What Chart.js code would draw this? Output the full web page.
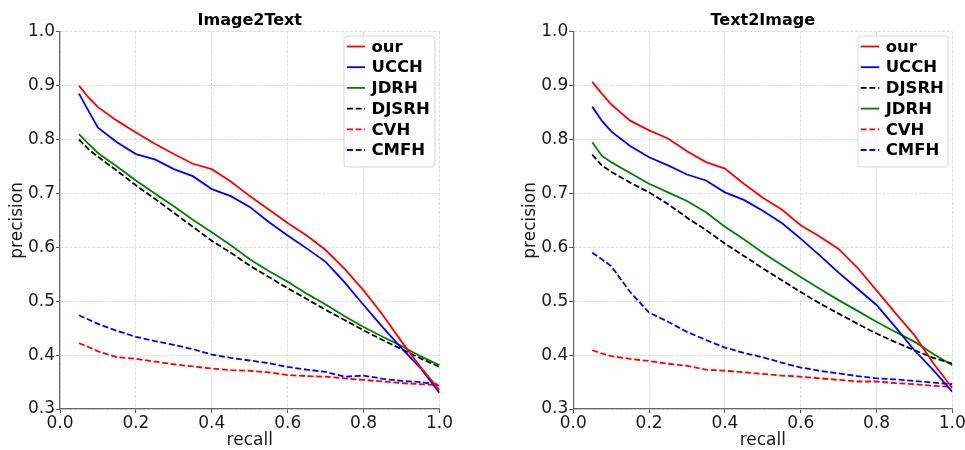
<!DOCTYPE html>
<html>
<head>
<meta charset="utf-8">
<script src="https://cdn.jsdelivr.net/npm/chart.js@4.4.1/dist/chart.umd.min.js"></script>
<style>
html, body { margin: 0; padding: 0; background: #fff; overflow: hidden; width: 965px; height: 450px; }
#i2t { position: absolute; left: 0; top: 0; }
#t2i { position: absolute; left: 485px; top: 0; }
</style>
</head>
<body>
<canvas id="i2t" width="482" height="450"></canvas>
<canvas id="t2i" width="500" height="450"></canvas>
<script>
// recall points shared by every curve
const recall = [0.05, 0.075, 0.1, 0.15, 0.2, 0.25, 0.3, 0.35, 0.4, 0.45, 0.5,
                0.55, 0.6, 0.65, 0.7, 0.75, 0.8, 0.85, 0.9, 0.95, 1.0];
const xTicks = [0, 0.2, 0.4, 0.6, 0.8, 1.0];
const yTicks = [0.3, 0.4, 0.5, 0.6, 0.7, 0.8, 0.9, 1.0];

// Image2Text precision
const i2tOur   = [0.900, 0.878, 0.860, 0.835, 0.813, 0.792, 0.773, 0.755, 0.745, 0.722, 0.695, 0.670, 0.645, 0.622, 0.595, 0.560, 0.520, 0.475, 0.425, 0.378, 0.335];
const i2tUCCH  = [0.885, 0.853, 0.822, 0.795, 0.773, 0.763, 0.745, 0.732, 0.708, 0.695, 0.675, 0.647, 0.622, 0.598, 0.573, 0.535, 0.493, 0.452, 0.413, 0.376, 0.330];
const i2tJDRH  = [0.810, 0.792, 0.775, 0.750, 0.724, 0.700, 0.676, 0.651, 0.628, 0.604, 0.578, 0.556, 0.536, 0.514, 0.494, 0.472, 0.452, 0.434, 0.417, 0.398, 0.381];
const i2tDJSRH = [0.800, 0.782, 0.768, 0.742, 0.715, 0.690, 0.664, 0.638, 0.612, 0.590, 0.566, 0.545, 0.524, 0.504, 0.484, 0.465, 0.446, 0.428, 0.411, 0.394, 0.378];
const i2tCVH   = [0.422, 0.415, 0.407, 0.396, 0.393, 0.388, 0.383, 0.379, 0.375, 0.372, 0.371, 0.368, 0.363, 0.361, 0.360, 0.357, 0.354, 0.351, 0.348, 0.346, 0.344];
const i2tCMFH  = [0.474, 0.466, 0.458, 0.445, 0.434, 0.426, 0.419, 0.411, 0.401, 0.395, 0.390, 0.385, 0.378, 0.373, 0.369, 0.360, 0.362, 0.356, 0.352, 0.350, 0.345];

// Text2Image precision
const t2iOur   = [0.907, 0.885, 0.865, 0.835, 0.817, 0.802, 0.778, 0.758, 0.746, 0.718, 0.692, 0.670, 0.641, 0.620, 0.597, 0.562, 0.520, 0.478, 0.437, 0.385, 0.339];
const t2iUCCH  = [0.861, 0.835, 0.815, 0.788, 0.767, 0.752, 0.735, 0.724, 0.702, 0.688, 0.668, 0.645, 0.616, 0.585, 0.553, 0.523, 0.493, 0.452, 0.409, 0.372, 0.332];
const t2iDJSRH = [0.772, 0.752, 0.740, 0.720, 0.702, 0.680, 0.655, 0.632, 0.607, 0.584, 0.561, 0.539, 0.517, 0.496, 0.477, 0.458, 0.440, 0.424, 0.409, 0.395, 0.384];
const t2iJDRH  = [0.795, 0.770, 0.758, 0.738, 0.718, 0.702, 0.686, 0.665, 0.638, 0.615, 0.590, 0.567, 0.545, 0.523, 0.502, 0.482, 0.462, 0.443, 0.425, 0.402, 0.381];
const t2iCVH   = [0.409, 0.403, 0.398, 0.393, 0.389, 0.384, 0.380, 0.373, 0.371, 0.368, 0.365, 0.362, 0.360, 0.357, 0.354, 0.351, 0.351, 0.348, 0.346, 0.343, 0.341];
const t2iCMFH  = [0.590, 0.578, 0.565, 0.517, 0.479, 0.462, 0.443, 0.428, 0.414, 0.404, 0.396, 0.386, 0.377, 0.371, 0.366, 0.361, 0.357, 0.355, 0.352, 0.349, 0.346];

const FONT = '"DejaVu Sans", sans-serif';
const DASH = [6, 2.6];
const LW = 1.8;

let series = (label, values, color, dashed) => ({
    label: label,
    data: values.map((v, i) => ({ x: recall[i], y: v })),
    borderColor: color,
    borderWidth: LW,
    borderDash: dashed ? DASH : [],
    pointRadius: 0,
    tension: 0,
    fill: false,
});

// legend box drawn inside the plot area, like matplotlib's
const boxLegend = {
    id: 'boxLegend',
    afterDraw(chart, args, opts) {
        const ctx = chart.ctx;
        ctx.save();
        const r = 3;
        const { x, y, w, h } = opts;
        ctx.beginPath();
        ctx.moveTo(x + r, y);
        ctx.arcTo(x + w, y, x + w, y + h, r);
        ctx.arcTo(x + w, y + h, x, y + h, r);
        ctx.arcTo(x, y + h, x, y, r);
        ctx.arcTo(x, y, x + w, y, r);
        ctx.closePath();
        ctx.fillStyle = 'rgba(255,255,255,0.85)';
        ctx.fill();
        ctx.strokeStyle = '#d6d6d6';
        ctx.lineWidth = 1;
        ctx.stroke();

        ctx.font = 'bold 16.5px ' + FONT;
        ctx.textBaseline = 'middle';
        ctx.textAlign = 'left';
        chart.data.datasets.forEach((ds, i) => {
            const cy = opts.firstRow + i * opts.rowH;
            ctx.beginPath();
            ctx.setLineDash(ds.borderDash);
            ctx.strokeStyle = ds.borderColor;
            ctx.lineWidth = LW;
            ctx.moveTo(opts.lineX0, cy);
            ctx.lineTo(opts.lineX1, cy);
            ctx.stroke();
            ctx.setLineDash([]);
            ctx.fillStyle = '#000';
            ctx.fillText(ds.label, opts.textX, cy + 1);
        });
        ctx.restore();
    }
};

let makeOptions = (title, pad, legend) => ({
    responsive: false,
    animation: false,
    layout: { padding: pad },
    plugins: {
        legend: { display: false },
        tooltip: { enabled: false },
        title: {
            display: true,
            text: title,
            fullSize: false,
            color: '#000',
            font: { family: FONT, size: 16, weight: 'bold' },
            padding: { top: 11, bottom: 1.5 },
        },
        boxLegend: legend,
    },
    scales: {
        x: {
            type: 'linear',
            min: 0,
            max: 1,
            afterFit: (scale) => { scale.height = 41; },
            afterBuildTicks: (scale) => { scale.ticks = xTicks.map(v => ({ value: v })); },
            ticks: {
                callback: (v) => v.toFixed(1),
                color: '#1a1a1a',
                font: { family: FONT, size: 17 },
                padding: 0,
                maxRotation: 0,
                autoSkip: false,
            },
            grid: {
                color: '#d3d3d3',
                lineWidth: 0.8,
                tickLength: 4,
                tickColor: '#555',
                tickWidth: 1,
                tickBorderDash: [],
            },
            border: { display: true, color: '#666', width: 1.2, dash: [3, 1.6] },
            title: {
                display: true,
                text: 'recall',
                color: '#1a1a1a',
                font: { family: FONT, size: 17, lineHeight: 1.1 },
                padding: { top: 0, bottom: 0 },
            },
        },
        y: {
            type: 'linear',
            min: 0.3,
            max: 1.0,
            afterFit: (scale) => { scale.width = 60; },
            afterBuildTicks: (scale) => { scale.ticks = yTicks.map(v => ({ value: v })); },
            ticks: {
                callback: (v) => v.toFixed(1),
                color: '#1a1a1a',
                font: { family: FONT, size: 17 },
                padding: 1,
                autoSkip: false,
            },
            grid: {
                color: '#d3d3d3',
                lineWidth: 0.8,
                tickLength: 4,
                tickColor: '#555',
                tickWidth: 1,
                tickBorderDash: [],
            },
            border: { display: true, color: '#666', width: 1.2, dash: [3, 1.6] },
            title: {
                display: true,
                text: 'precision',
                color: '#1a1a1a',
                font: { family: FONT, size: 17, lineHeight: 1.2 },
                padding: { top: 7, bottom: 0 },
            },
        },
    },
});

new Chart(document.querySelector('#i2t'), {
    type: 'line',
    data: {
        datasets: [
            series('our', i2tOur, '#ff0000', false),
            series('UCCH', i2tUCCH, '#0000ff', false),
            series('JDRH', i2tJDRH, '#008000', false),
            series('DJSRH', i2tDJSRH, '#000000', true),
            series('CVH', i2tCVH, '#ff0000', true),
            series('CMFH', i2tCMFH, '#0000ff', true),
        ],
    },
    options: makeOptions('Image2Text', { left: 0, right: 42.5, top: 0, bottom: 0 },
        { x: 344, y: 36, w: 91, h: 131, firstRow: 46.5, rowH: 20.7, lineX0: 347, lineX1: 365, textX: 371.5 }),
    plugins: [boxLegend],
});

new Chart(document.querySelector('#t2i'), {
    type: 'line',
    data: {
        datasets: [
            series('our', t2iOur, '#ff0000', false),
            series('UCCH', t2iUCCH, '#0000ff', false),
            series('DJSRH', t2iDJSRH, '#000000', true),
            series('JDRH', t2iJDRH, '#008000', false),
            series('CVH', t2iCVH, '#ff0000', true),
            series('CMFH', t2iCMFH, '#0000ff', true),
        ],
    },
    options: makeOptions('Text2Image', { left: 28.3, right: 32.7, top: 0, bottom: 0 },
        { x: 373, y: 36, w: 90, h: 131, firstRow: 46.5, rowH: 20.7, lineX0: 375.7, lineX1: 394.3, textX: 400.7 }),
    plugins: [boxLegend],
});
</script>
</body>
</html>
